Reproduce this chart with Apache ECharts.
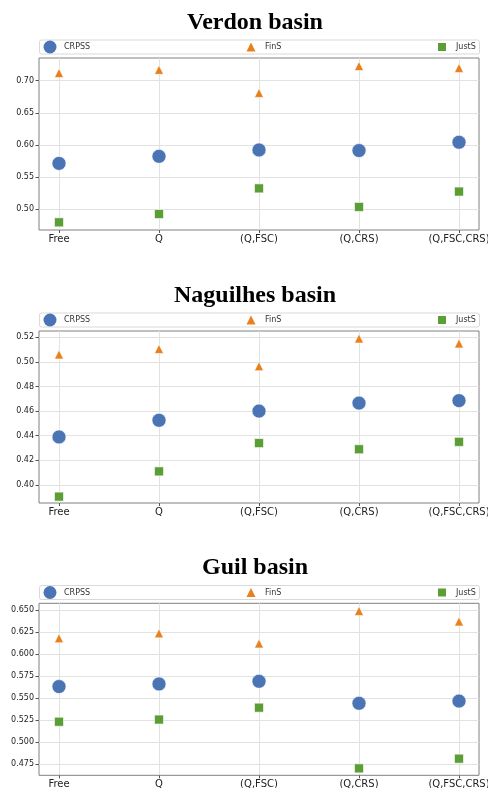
<!DOCTYPE html>
<html><head><meta charset="utf-8">
<script src="https://cdn.jsdelivr.net/npm/echarts@6/dist/echarts.min.js"></script>
<style>html,body{margin:0;padding:0;background:#fff}#c{width:488px;height:788px}</style>
</head><body><div id="c"></div>
<script>
// ---- data ----
const categories = ['Free', 'Q', '(Q,FSC)', '(Q,CRS)', '(Q,FSC,CRS)'];
const panelTitles = ['Verdon basin', 'Naguilhes basin', 'Guil basin'];
const seriesNames = ['CRPSS', 'FinS', 'JustS'];

const verdonCRPSS = [0.571, 0.582, 0.592, 0.591, 0.604];
const verdonFinS  = [0.712, 0.717, 0.681, 0.723, 0.720];
const verdonJustS = [0.479, 0.492, 0.532, 0.503, 0.527];

const naguilhesCRPSS = [0.439, 0.4525, 0.460, 0.4665, 0.4685];
const naguilhesFinS  = [0.506, 0.5105, 0.4965, 0.519, 0.515];
const naguilhesJustS = [0.3905, 0.411, 0.434, 0.429, 0.435];

const guilCRPSS = [0.563, 0.566, 0.569, 0.544, 0.5465];
const guilFinS  = [0.618, 0.6235, 0.612, 0.649, 0.637];
const guilJustS = [0.523, 0.5255, 0.539, 0.470, 0.481];

const verdonTicks    = [0.50, 0.55, 0.60, 0.65, 0.70];
const naguilhesTicks = [0.40, 0.42, 0.44, 0.46, 0.48, 0.50, 0.52];
const guilTicks      = [0.475, 0.500, 0.525, 0.550, 0.575, 0.600, 0.625, 0.650];

const verdonRange    = [0.467, 0.7355];
const naguilhesRange = [0.3853, 0.5251];
const guilRange      = [0.4621, 0.6577];

// ---- layout / style ----
const panelSeries = [
  [verdonCRPSS, verdonFinS, verdonJustS],
  [naguilhesCRPSS, naguilhesFinS, naguilhesJustS],
  [guilCRPSS, guilFinS, guilJustS]
];
const panelTicks = [verdonTicks, naguilhesTicks, guilTicks];
const panelRanges = [verdonRange, naguilhesRange, guilRange];
const panelDecimals = [2, 2, 3];
const plotTops = [58, 331, 603.3];
const plotHeight = 172;
const titleTops = [10.5, 283.5, 555.5];
const legendCenters = [47, 320, 592.5];

const colors = ['#4a74b4', '#e8801e', '#5b9e35'];
const symbols = ['circle', 'triangle', 'rect'];
const symbolSizes = [14, 9, 9];
const legendIcon = [13, 9, 8];
const legendIconCenters = [50, 251, 442];
const legendTextStarts = [64, 265, 456];
const catIdx = categories.map((c, i) => i);

const option = {
  animation: false,
  backgroundColor: '#fff',
  title: [], grid: [], xAxis: [], yAxis: [], series: [], legend: [], graphic: []
};

for (let p = 0; p < 3; p++) {
  option.title.push({
    text: panelTitles[p], left: 255, top: titleTops[p], textAlign: 'center', padding: 0,
    textStyle: { fontFamily: 'Liberation Serif', fontWeight: 'bold', fontSize: 24, color: '#000' }
  });
  option.grid.push({
    left: 39, right: 9, top: plotTops[p], height: plotHeight,
    show: true, borderColor: '#808080', borderWidth: 1, backgroundColor: 'transparent',
    containLabel: false, outerBoundsMode: 'none'
  });
  option.xAxis.push({
    type: 'value', gridIndex: p, min: -0.2, max: 4.2, position: 'bottom',
    axisLine: { show: false, onZero: false },
    axisTick: { show: true, customValues: catIdx, length: 3, lineStyle: { color: '#555' } },
    axisLabel: {
      customValues: catIdx, formatter: v => categories[Math.round(v)],
      fontSize: 10, fontFamily: 'DejaVu Sans', color: '#222', margin: 4
    },
    splitLine: { show: true, lineStyle: { color: '#e2e2e2', width: 1 } }
  });
  const dec = panelDecimals[p];
  option.yAxis.push({
    type: 'value', gridIndex: p, min: panelRanges[p][0], max: panelRanges[p][1], position: 'left',
    axisLine: { show: false, onZero: false },
    axisTick: { show: true, customValues: panelTicks[p], length: 3.5, lineStyle: { color: '#555' } },
    axisLabel: {
      customValues: panelTicks[p], formatter: v => v.toFixed(dec),
      fontSize: 8, fontFamily: 'DejaVu Sans', color: '#222', margin: 5
    },
    splitLine: { show: true, lineStyle: { color: '#e2e2e2', width: 1 } }
  });
  for (let s = 0; s < 3; s++) {
    option.series.push({
      type: 'scatter', name: seriesNames[s], xAxisIndex: p, yAxisIndex: p,
      symbol: symbols[s], symbolSize: symbolSizes[s],
      itemStyle: { color: colors[s], borderColor: '#fff', borderWidth: 0.6, opacity: 1 },
      data: panelSeries[p][s].map((v, k) => [k, v])
    });
    const w = legendIcon[s];
    const left = legendIconCenters[s] - w / 2;
    option.legend.push({
      data: [{ name: seriesNames[s], icon: symbols[s] }],
      left: left, top: legendCenters[p] - 6.5,
      itemWidth: w, itemHeight: w, itemGap: 0, padding: 0,
      selectedMode: false,
      itemStyle: { borderWidth: 0 },
      textStyle: {
        fontSize: 8, fontFamily: 'DejaVu Sans', color: '#333', lineHeight: 13,
        padding: [0, 0, 0, legendTextStarts[s] - (left + w + 5)]
      }
    });
  }
  option.graphic.push({
    type: 'rect', z: 0, silent: true,
    shape: { x: 39.5, y: legendCenters[p] - 7, width: 440, height: 14, r: 2 },
    style: { fill: '#fff', stroke: '#d9d9d9', lineWidth: 1 }
  });
}

const chart = echarts.init(document.getElementById('c'), null, { renderer: 'canvas' });
chart.setOption(option);
</script>
</body></html>
